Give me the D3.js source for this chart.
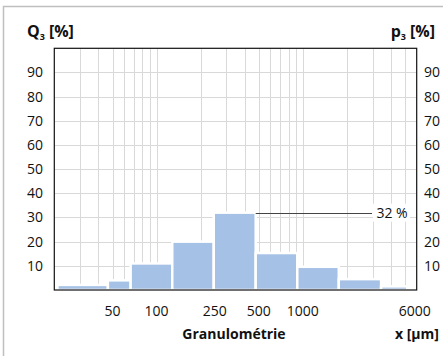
<!DOCTYPE html>
<html>
<head>
<meta charset="utf-8">
<script src="https://cdn.jsdelivr.net/npm/d3@7"></script>
<style>
  body { margin: 0; background: #fff; }
  text { font-family: "Open Sans", "Noto Sans", sans-serif; fill: #111; }
  .bold { font-weight: bold; }
</style>
</head>
<body>
<svg id="chart"></svg>
<script>
var width = 443, height = 356;
var margin = {top: 48.3, right: 26.3, bottom: 66, left: 54.3};

// bin edges in µm (log spaced classes) and the p3 value of each class
var binEdges = [21, 46.5, 66.5, 128, 246, 476, 916, 1760, 3425, 5175];
var values = [2.1, 4, 11, 20, 32, 15.3, 9.6, 4.5, 1.5];

var yTicks = [10, 20, 30, 40, 50, 60, 70, 80, 90];
var xTickLabels = [50, 100, 250, 500, 1000, 6000];
var xGrid = [30, 40, 50, 60, 70, 80, 90, 100, 200, 300, 400, 500, 600, 700, 800, 900, 1000, 2000, 3000, 4000, 5000];

var svg = d3.select("#chart")
    .attr("width", width)
    .attr("height", height);

// outer frame
svg.append("rect")
    .attr("x", 3.5).attr("y", 6.5)
    .attr("width", 445).attr("height", 360)
    .attr("fill", "none")
    .attr("stroke", "#bfbfbf")
    .attr("stroke-width", 1.5);

var x = d3.scaleLog()
    .domain([20, 6000])
    .range([margin.left, width - margin.right]);

var y = d3.scaleLinear()
    .domain([0, 100])
    .range([height - margin.bottom, margin.top]);

// grid
svg.append("g").selectAll("line")
    .data(xGrid)
  .enter().append("line")
    .attr("x1", function(d) { return Math.round(x(d)) + 0.5; })
    .attr("x2", function(d) { return Math.round(x(d)) + 0.5; })
    .attr("y1", y(100))
    .attr("y2", y(0))
    .attr("stroke", "#d9d9d9");

svg.append("g").selectAll("line")
    .data(yTicks)
  .enter().append("line")
    .attr("x1", x(20))
    .attr("x2", x(6000))
    .attr("y1", function(d) { return Math.round(y(d)) + 0.5; })
    .attr("y2", function(d) { return Math.round(y(d)) + 0.5; })
    .attr("stroke", "#d9d9d9");

// bars
var bins = values.map(function(v, i) { return {lo: binEdges[i], hi: binEdges[i + 1], v: v}; });

svg.append("g").selectAll("rect")
    .data(bins)
  .enter().append("rect")
    .attr("x", function(d) { return x(d.lo); })
    .attr("width", function(d) { return x(d.hi) - x(d.lo); })
    .attr("y", function(d) { return y(d.v); })
    .attr("height", function(d) { return y(0) - y(d.v); })
    .attr("fill", "#a6c1e6")
    .attr("stroke", "#fff")
    .attr("stroke-width", 2.5);

// annotation for the tallest class
var peak = bins[d3.maxIndex(bins, function(d) { return d.v; })];
svg.append("line")
    .attr("x1", x(peak.hi))
    .attr("x2", 372)
    .attr("y1", Math.round(y(peak.v)) + 0.5)
    .attr("y2", Math.round(y(peak.v)) + 0.5)
    .attr("stroke", "#444")
    .attr("stroke-width", 1);

svg.append("rect")
    .attr("x", 373).attr("y", y(peak.v) - 9)
    .attr("width", 37).attr("height", 18)
    .attr("fill", "#fff");

svg.append("text")
    .attr("x", 392)
    .attr("y", y(peak.v) + 5.5)
    .attr("text-anchor", "middle")
    .style("font-size", "14px")
    .text(d3.format("d")(peak.v) + " %");

// plot frame
svg.append("rect")
    .attr("x", x(20)).attr("y", y(100))
    .attr("width", x(6000) - x(20))
    .attr("height", y(0) - y(100))
    .attr("fill", "none")
    .attr("stroke", "#111")
    .attr("stroke-width", 1.2);

// y labels left and right
svg.append("g").selectAll("text")
    .data(yTicks)
  .enter().append("text")
    .attr("x", 43)
    .attr("y", function(d) { return y(d) + 5; })
    .attr("text-anchor", "end")
    .style("font-size", "14px")
    .text(function(d) { return d; });

svg.append("g").selectAll("text")
    .data(yTicks)
  .enter().append("text")
    .attr("x", 424)
    .attr("y", function(d) { return y(d) + 5; })
    .style("font-size", "14px")
    .text(function(d) { return d; });

// x labels
svg.append("g").selectAll("text")
    .data(xTickLabels)
  .enter().append("text")
    .attr("x", function(d) { return d === 6000 ? x(d) - 2 : x(d); })
    .attr("y", 316)
    .attr("text-anchor", "middle")
    .style("font-size", "14px")
    .text(function(d) { return d; });

// titles
var q = svg.append("text").attr("class", "bold")
    .attr("x", 27).attr("y", 37)
    .style("font-size", "16px");
q.append("tspan").text("Q");
q.append("tspan").attr("dy", 3).style("font-size", "9px").text("3");
q.append("tspan").attr("dy", -3).attr("dx", 4).text("[%]");

var p = svg.append("text").attr("class", "bold")
    .attr("x", 435).attr("y", 37)
    .attr("text-anchor", "end")
    .style("font-size", "16px");
p.append("tspan").text("p");
p.append("tspan").attr("dy", 3).style("font-size", "9px").text("3");
p.append("tspan").attr("dy", -3).attr("dx", 4).text("[%]");

svg.append("text").attr("class", "bold")
    .attr("x", 234).attr("y", 339)
    .attr("text-anchor", "middle")
    .style("font-size", "14px")
    .text("Granulométrie");

svg.append("text").attr("class", "bold")
    .attr("x", 439).attr("y", 339)
    .attr("text-anchor", "end")
    .style("font-size", "14px")
    .text("x [µm]");
</script>
</body>
</html>
